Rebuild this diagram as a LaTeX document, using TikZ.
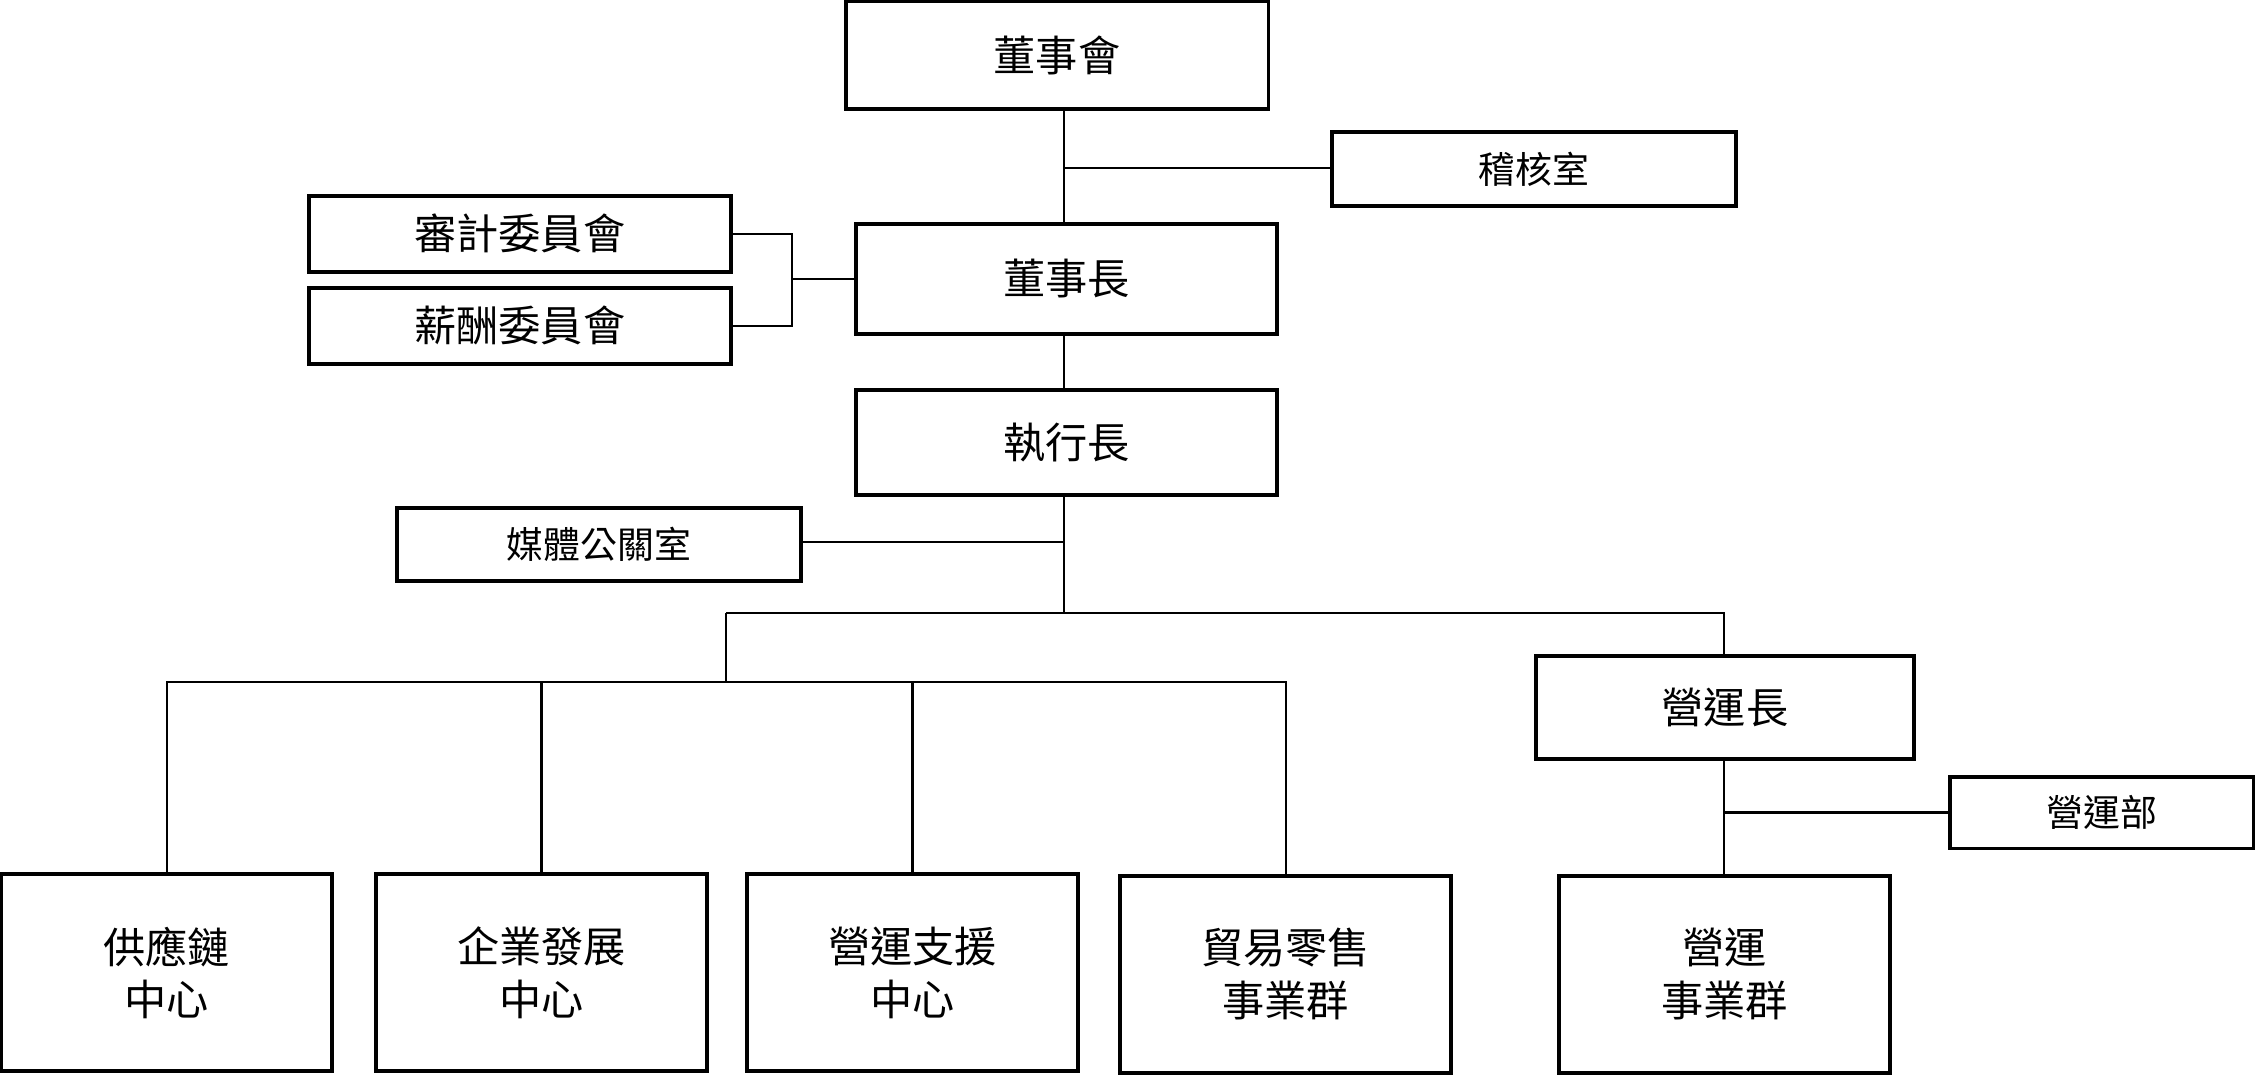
\documentclass[tikz,border=0pt]{standalone}
\usepackage{fontspec}
\newfontfamily\cjk{Noto Sans CJK TC}
\usetikzlibrary{calc}
\tikzset{
  org/.style 2 args={draw,line width=1.1pt,inner sep=0pt,align=center,
    minimum width=#1*0.01438cm,minimum height=#2*0.01438cm,font=\cjk\fontsize{12}{15}\selectfont},
  small/.style={font=\cjk\fontsize{10.5}{13}\selectfont},
  link/.style={line width=0.6pt}
}
\begin{document}
\begin{tikzpicture}[x=0.01438cm,y=-0.01438cm]
\useasboundingbox (0,0) rectangle (1568,748);

% top level
\node[org={294}{75}] (board) at (735,38.5) {董事會};
\node[org={281}{51},small] (audit) at (1066.5,117.5) {稽核室};
\node[org={293}{53}] (acomm) at (361.5,162.5) {審計委員會};
\node[org={293}{53}] (pcomm) at (361.5,226.5) {薪酬委員會};
\node[org={293}{76}] (chair) at (741.5,194) {董事長};
\node[org={293}{73}] (ceo) at (741.5,307.5) {執行長};
\node[org={281}{51},small] (pr) at (416.5,378.5) {媒體公關室};
\node[org={263}{72}] (coo) at (1199.5,492) {營運長};
\node[org={211}{50},small] (ops) at (1461.5,565) {營運部};

% bottom row
\node[org={230}{137}] (supply) at (116,676.5) {供應鏈\\中心};
\node[org={230}{137}] (corp) at (376.5,676.5) {企業發展\\中心};
\node[org={230}{137}] (support) at (634.5,676.5) {營運支援\\中心};
\node[org={230}{137}] (trade) at (894,677.5) {貿易零售\\事業群};
\node[org={230}{137}] (opsgrp) at (1199,677.5) {營運\\事業群};

% junctions
\coordinate (jaudit) at (740,117);
\coordinate (jcomm) at (551,194);
\coordinate (jpr) at (740,377);
\coordinate (jmain) at (740,426);
\coordinate (jleft) at (505,426);
\coordinate (jright) at (1199,426);
\coordinate (jrow) at (505,474);
\coordinate (jops) at (1199,565);

\draw[link] (board.south -| jaudit) -- (chair.north -| jaudit);
\draw[link] (jaudit) -- (audit.west |- jaudit);
\draw[link] (acomm.east) -| (jcomm);
\draw[link] (pcomm.east) -| (jcomm);
\draw[link] (jcomm) -- (chair.west |- jcomm);
\draw[link] (chair.south -| jaudit) -- (ceo.north -| jaudit);
\draw[link] (ceo.south -| jmain) -- (jmain);
\draw[link] (jpr) -- (pr.east |- jpr);
\draw[link] (jleft) -- (jright) -- (coo.north -| jright);
\draw[link] (jleft) -- (jrow);
\draw[link] (supply.north) |- (jrow);
\draw[link] (jrow) -| (trade.north);
\draw[link] (corp.north) -- (corp.north |- jrow);
\draw[link] (support.north) -- (support.north |- jrow);
\draw[link] (coo.south -| opsgrp.north) -- (opsgrp.north);
\draw[link] (jops) -- (ops.west);
\end{tikzpicture}
\end{document}
